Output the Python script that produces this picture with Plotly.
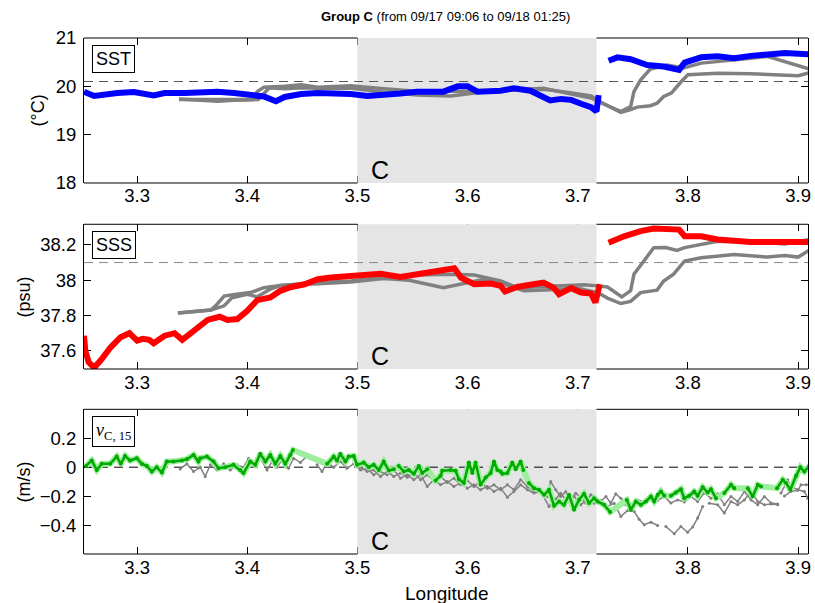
import plotly.graph_objects as go

# ---------------- axes / region constants ----------------
X_MIN, X_MAX = 3.2518, 3.909
C_START, C_END = 3.5, 3.717
X_TICKS = [3.3, 3.4, 3.5, 3.6, 3.7, 3.8, 3.9]

SST_RANGE = [18, 21]
SST_TICKS = [18, 19, 20, 21]
SST_REF = 20.1
SSS_RANGE = [37.497, 38.317]
SSS_TICKS = [37.6, 37.8, 38.0, 38.2]
SSS_REF = 38.1
V_RANGE = [-0.6, 0.4]
V_TICKS = [-0.4, -0.2, 0, 0.2]
V_REF = 0.0

TITLE_BOLD = "Group C"
TITLE_REST = " (from 09/17 09:06 to 09/18 01:25)"

# ---------------- SST ----------------
sst_lon = [3.2518, 3.261, 3.282, 3.297, 3.315, 3.325, 3.343, 3.358, 3.373, 3.388, 3.403, 3.415,
           3.426, 3.434, 3.449, 3.464, 3.494, 3.509, 3.539, 3.554, 3.578, 3.591, 3.600, 3.609,
           3.630, 3.642, 3.657, 3.669, 3.675, 3.685, 3.694, 3.703, 3.712, 3.717, 3.719,
           None,
           3.728, 3.736, 3.748, 3.763, 3.778, 3.792, 3.797, 3.812, 3.827, 3.842, 3.857, 3.872,
           3.888, 3.910]
sst_val = [19.89, 19.80, 19.86, 19.88, 19.81, 19.86, 19.86, 19.87, 19.89, 19.86, 19.81, 19.79,
           19.69, 19.78, 19.84, 19.86, 19.84, 19.80, 19.85, 19.89, 19.89, 20.00, 20.00, 19.89,
           19.91, 19.96, 19.91, 19.79, 19.71, 19.74, 19.72, 19.64, 19.57, 19.48, 19.82,
           None,
           20.53, 20.60, 20.56, 20.44, 20.41, 20.34, 20.49, 20.60, 20.62, 20.58, 20.63, 20.67,
           20.69, 20.66]

sst_gray_a_lon = [3.338, 3.373, 3.388, 3.405, 3.409, 3.415, 3.434, 3.449, 3.464, 3.494, 3.524,
                  3.554, 3.585, 3.615, 3.645, 3.669, 3.690, 3.712, 3.722, 3.739, 3.748, 3.751,
                  3.757, 3.766, 3.781, 3.796, 3.812, 3.827, 3.857, 3.872, 3.888, 3.900, 3.910]
sst_gray_a_val = [19.74, 19.69, 19.71, 19.72, 19.89, 19.98, 20.00, 20.03, 19.98, 20.01, 19.95,
                  19.90, 19.90, 19.89, 19.93, 19.96, 19.86, 19.76, 19.65, 19.48, 19.58, 19.89,
                  20.13, 20.36, 20.44, 20.38, 20.48, 20.51, 20.58, 20.62, 20.51, 20.41, 20.36]
sst_gray_b_lon = [3.338, 3.373, 3.388, 3.410, 3.415, 3.420, 3.434, 3.449, 3.464, 3.494, 3.524,
                  3.554, 3.585, 3.600, 3.615, 3.645, 3.669, 3.690, 3.712, 3.722, 3.739, 3.748,
                  3.754, 3.766, 3.772, 3.778, 3.785, 3.794, 3.800, 3.827, 3.857, 3.900, 3.910]
sst_gray_b_val = [19.73, 19.72, 19.73, 19.73, 19.85, 19.97, 19.95, 19.97, 19.96, 19.96, 19.88,
                  19.82, 19.80, 19.84, 19.89, 19.93, 19.94, 19.88, 19.80, 19.66, 19.46, 19.52,
                  19.57, 19.60, 19.65, 19.79, 19.86, 20.10, 20.24, 20.27, 20.26, 20.22, 20.28]

# ---------------- SSS ----------------
sss_lon = [3.2518, 3.253, 3.256, 3.261, 3.267, 3.276, 3.285, 3.293, 3.300, 3.305, 3.311, 3.315,
           3.325, 3.334, 3.341, 3.352, 3.364, 3.375, 3.382, 3.391, 3.400, 3.409, 3.421, 3.430,
           3.440, 3.452, 3.464, 3.476, 3.494, 3.509, 3.521, 3.539, 3.554, 3.566, 3.578, 3.588,
           3.594, 3.606, 3.621, 3.630, 3.634, 3.645, 3.657, 3.669, 3.678, 3.683, 3.694, 3.703,
           3.712, 3.716, 3.720,
           None,
           3.728, 3.742, 3.757, 3.769, 3.792, 3.797, 3.812, 3.827, 3.857, 3.888, 3.910]
sss_val = [37.686, 37.600, 37.536, 37.505, 37.546, 37.620, 37.677, 37.700, 37.658, 37.668, 37.662,
           37.643, 37.686, 37.700, 37.662, 37.715, 37.775, 37.793, 37.775, 37.780, 37.827, 37.887,
           37.902, 37.940, 37.962, 37.977, 38.006, 38.015, 38.024, 38.030, 38.037, 38.019, 38.034,
           38.052, 38.062, 38.068, 38.015, 37.977, 37.981, 37.968, 37.936, 37.962, 37.974, 37.987,
           37.958, 37.921, 37.955, 37.930, 37.925, 37.874, 37.977,
           None,
           38.212, 38.249, 38.278, 38.293, 38.287, 38.249, 38.249, 38.231, 38.217, 38.212, 38.217]

sss_gray_a_lon = [3.337, 3.367, 3.372, 3.379, 3.390, 3.403, 3.415, 3.430, 3.464, 3.494, 3.524,
                  3.554, 3.585, 3.606, 3.630, 3.645, 3.670, 3.706, 3.718, 3.727, 3.740, 3.748,
                  3.751, 3.760, 3.769, 3.780, 3.790, 3.797, 3.812, 3.827, 3.857, 3.888, 3.910]
sss_gray_a_val = [37.814, 37.831, 37.860, 37.910, 37.920, 37.930, 37.958, 37.970, 37.987, 37.996,
                  38.019, 38.030, 38.034, 38.030, 37.996, 37.958, 37.965, 37.974, 37.968, 37.962,
                  37.906, 37.940, 38.034, 38.109, 38.184, 38.185, 38.169, 38.185, 38.203, 38.221,
                  38.220, 38.206, 38.231]
sss_gray_b_lon = [3.337, 3.367, 3.379, 3.386, 3.400, 3.409, 3.421, 3.430, 3.464, 3.494, 3.524,
                  3.547, 3.578, 3.597, 3.615, 3.630, 3.651, 3.670, 3.700, 3.718, 3.727, 3.739,
                  3.748, 3.757, 3.772, 3.778, 3.787, 3.797, 3.812, 3.842, 3.872, 3.888, 3.900,
                  3.910]
sss_gray_b_val = [37.814, 37.831, 37.855, 37.900, 37.920, 37.906, 37.950, 37.970, 37.980, 37.990,
                  38.010, 38.000, 37.958, 37.985, 38.006, 37.985, 37.940, 37.945, 37.955, 37.930,
                  37.899, 37.868, 37.880, 37.930, 37.944, 37.996, 38.034, 38.109, 38.127, 38.146,
                  38.131, 38.140, 38.131, 38.169]

# ---------------- velocity ----------------
v_lon = [3.2536, 3.2588, 3.2634, 3.2679, 3.2755, 3.2815, 3.2852, 3.2891, 3.2936, 3.2997, 3.3043,
         3.3088, 3.3134, 3.3179, 3.3225, 3.3270, 3.3330, 3.3406, 3.3452, 3.3512, 3.3557, 3.3573,
         3.3634, 3.3694, 3.3739, 3.3800, 3.3875, 3.3936, 3.3966, 3.4027, 3.4073, 3.4118, 3.4164,
         3.4209, 3.4255, 3.4300, 3.4345, 3.4391, 3.4415,
         None,
         3.4725, 3.4785, 3.4815, 3.4845, 3.4891, 3.4921, 3.4966, 3.4997, 3.5057, 3.5103, 3.5148,
         3.5194, 3.5239, 3.5285, 3.5330,
         None,
         3.5375, 3.5421, 3.5466, 3.5512, 3.5557, 3.5588, 3.5634,
         None,
         3.5709, 3.5755, 3.5770, 3.5845, 3.5891, 3.5921, 3.5966, 3.6012, 3.6043, 3.6073, 3.6118,
         3.6164, 3.6209, 3.6239, 3.6270, 3.6300, 3.6315, 3.6361, 3.6406, 3.6436, 3.6482, 3.6506,
         None,
         3.6557, 3.6603, 3.6648, 3.6694, 3.6739, 3.6785, 3.6830, 3.6875, 3.6921, 3.6966, 3.7012,
         3.7057, 3.7103, 3.7148, 3.7179, 3.7239, 3.7294,
         None,
         3.7445, 3.7482, 3.7527, 3.7573, 3.7618, 3.7664, 3.7694, 3.7725, 3.7755, 3.7785,
         None,
         3.7845, 3.7891, 3.7936, 3.7966, 3.8012, 3.8057, 3.8088, 3.8134, 3.8179, 3.8209, 3.8255,
         None,
         3.8330, 3.8391, 3.8421,
         None,
         3.8543, 3.8588, 3.8634, 3.8664,
         None,
         3.8809, 3.8861, 3.8891, 3.8930, 3.8982, 3.9021, 3.9057, 3.9103]
v_val = [0.009, 0.046, -0.019, 0.023, 0.023, 0.073, 0.023, 0.078, 0.046, 0.062, 0.023,
         0.009, -0.030, 0.000, -0.037, 0.039, 0.040, 0.046, 0.055, 0.085, 0.039, 0.062,
         0.073, 0.039, -0.007, 0.000, 0.016, -0.019, -0.041, 0.039, 0.016, 0.092, 0.039,
         0.085, 0.023, 0.078, 0.023, 0.085, 0.119,
         None,
         0.023, 0.073, 0.046, 0.092, 0.039, 0.073, 0.078, 0.016, 0.032, 0.000, 0.016,
         -0.019, 0.039, -0.023, -0.014,
         None,
         0.009, -0.030, -0.019, -0.046, 0.009, -0.041, -0.014,
         None,
         -0.092, -0.060, -0.025, -0.019, -0.025, -0.083, -0.110, 0.032, -0.041, 0.032, -0.122,
         -0.071, -0.041, 0.039, -0.019, -0.030, -0.046, -0.041, 0.032, -0.014, 0.039, -0.019,
         None,
         -0.110, -0.145, -0.156, -0.191, -0.156, -0.267, -0.237, -0.260, -0.191, -0.294, -0.225,
         -0.184, -0.248, -0.214, -0.237, -0.260, -0.310,
         None,
         -0.226, -0.294, -0.237, -0.260, -0.237, -0.203, -0.237, -0.191, -0.168, -0.198,
         None,
         -0.198, -0.175, -0.152, -0.214, -0.198, -0.168, -0.198, -0.138, -0.175, -0.152, -0.214,
         None,
         -0.179, -0.122, -0.145,
         None,
         -0.145, -0.203, -0.122, -0.133,
         None,
         -0.145, -0.087, -0.110, -0.156, -0.060, 0.000, -0.030, 0.009]

v_gray_a_lon = [3.3391, 3.3452, 3.3512, 3.3557, 3.3573, 3.3618, 3.3664, 3.3725, 3.3785, 3.3845,
                3.3906, 3.3966, 3.4012, 3.4057, 3.4118, 3.4179, 3.4225, 3.4270, 3.4315, 3.4375,
                3.4421, 3.4482, 3.4543,
                None,
                3.4634, 3.4679, 3.4725, 3.4785, 3.4845, 3.4906, 3.4966, 3.5027, 3.5088, 3.5148,
                3.5209, 3.5270, 3.5330, 3.5391, 3.5452, 3.5512, 3.5573, 3.5634, 3.5694, 3.5755,
                3.5815, 3.5875, 3.5936, 3.5997, 3.6057, 3.6118, 3.6179, 3.6239, 3.6300, 3.6361,
                3.6421, 3.6482, 3.6543, 3.6603, 3.6664, 3.6739, 3.6800, 3.6845, 3.6906, 3.6966,
                3.7027, 3.7088, 3.7148, 3.7209, 3.7270, 3.7330, 3.7391, 3.7452, 3.7512, 3.7557,
                3.7603, 3.7664, 3.7725,
                None,
                3.7800, 3.7876, 3.7936, 3.7997, 3.8043, 3.8088, 3.8134,
                None,
                3.8194, 3.8270, 3.8330, 3.8391, 3.8452, 3.8512, 3.8573, 3.8634, 3.8694, 3.8755,
                3.8815,
                None,
                3.8876, 3.8936, 3.8997, 3.9027, 3.9073, 3.9118]
v_gray_a_val = [-0.012, 0.023, -0.030, -0.005, 0.000, -0.064, 0.016, -0.019, 0.023, -0.019,
                0.016, 0.000, 0.062, 0.009, 0.062, -0.019, 0.039, 0.000, 0.050, -0.007,
                0.062, 0.032, 0.078,
                None,
                0.016, -0.030, 0.032, 0.000, 0.039, -0.007, 0.023, -0.019, -0.010, -0.053,
                -0.030, -0.053, -0.019, -0.076, -0.053, -0.087, -0.053, -0.133, -0.087, -0.122,
                -0.099, -0.133, -0.110, -0.145, -0.122, -0.156, -0.133, -0.168, -0.145, -0.207,
                -0.168, -0.122, -0.156, -0.179, -0.168, -0.271, -0.220, -0.180, -0.240, -0.200,
                -0.260, -0.220, -0.250, -0.230, -0.270, -0.250, -0.340, -0.300, -0.306, -0.360,
                -0.398, -0.380, -0.403,
                None,
                -0.410, -0.460, -0.410, -0.450, -0.414, -0.352, -0.271,
                None,
                -0.250, -0.260, -0.317, -0.237, -0.260, -0.226, -0.168, -0.237, -0.260, -0.255,
                -0.260,
                None,
                -0.200, -0.168, -0.160, -0.122, -0.122, -0.122]

v_gray_b_lon = [3.5027, 3.5088, 3.5148, 3.5209, 3.5270, 3.5330, 3.5391, 3.5452, 3.5512, 3.5573,
                3.5634, 3.5694, 3.5755, 3.5815, 3.5875, 3.5936, 3.5997, 3.6057, 3.6118, 3.6179,
                3.6239, 3.6300, 3.6361, 3.6421, 3.6482, 3.6543, 3.6603, 3.6664, 3.6725, 3.6755,
                3.6800, 3.6845, 3.6891, 3.6936, 3.6982, 3.7027, 3.7073, 3.7118, 3.7164, 3.7209,
                3.7255, 3.7300, 3.7345, 3.7391, 3.7436, 3.7482, 3.7543, 3.7603, 3.7664, 3.7725,
                3.7785, 3.7845, 3.7906, 3.7966, 3.8027, 3.8088, 3.8148, 3.8209, 3.8270, 3.8330,
                3.8391, 3.8452, 3.8512, 3.8573, 3.8634, 3.8694, 3.8755, 3.8815,
                None,
                3.8845, 3.8906, 3.8936, 3.8997, 3.9057, 3.9088]
v_gray_b_val = [0.000, -0.030, -0.019, -0.064, -0.030, -0.064, -0.041, -0.069, -0.037, -0.087,
                -0.053, -0.092, -0.064, -0.106, -0.076, -0.122, -0.092, -0.133, -0.099, -0.145,
                -0.122, -0.156, -0.122, -0.156, -0.087, -0.133, -0.168, -0.156, -0.203, -0.099,
                -0.156, -0.203, -0.170, -0.226, -0.180, -0.210, -0.248, -0.191, -0.214, -0.237,
                -0.203, -0.248, -0.184, -0.214, -0.260, -0.283, -0.226, -0.240, -0.203, -0.230,
                -0.203, -0.248, -0.226, -0.240, -0.203, -0.237, -0.179, -0.214, -0.184, -0.260,
                -0.203, -0.237, -0.168, -0.226, -0.260, -0.203, -0.248, -0.255,
                None,
                -0.179, -0.087, -0.133, -0.156, -0.168, -0.214]

# ---------------- figure ----------------
FONT = "Liberation Sans, Arial, sans-serif"
GRAY = "#808080"
SHADE = "#E5E5E5"

fig = go.Figure()

panels = [
    dict(x="x", y="y", rng=SST_RANGE, ref=SST_REF, refcolor="#555555"),
    dict(x="x2", y="y2", rng=SSS_RANGE, ref=SSS_REF, refcolor="#888888"),
    dict(x="x3", y="y3", rng=V_RANGE, ref=V_REF, refcolor="#000000"),
]

for p in panels:
    lo, hi = p["rng"]
    pad = (hi - lo)
    fig.add_trace(go.Scatter(
        x=[C_START, C_END, C_END, C_START, C_START],
        y=[lo - pad, lo - pad, hi + pad, hi + pad, lo - pad],
        fill="toself", fillcolor=SHADE, mode="lines", line=dict(width=0),
        hoverinfo="skip", xaxis=p["x"], yaxis=p["y"]))
    fig.add_trace(go.Scatter(
        x=[X_MIN, X_MAX], y=[p["ref"], p["ref"]], mode="lines",
        line=dict(color=p["refcolor"], width=1, dash="9px,6px"),
        hoverinfo="skip", xaxis=p["x"], yaxis=p["y"]))

# SST
for lx, ly in [(sst_gray_a_lon, sst_gray_a_val), (sst_gray_b_lon, sst_gray_b_val)]:
    fig.add_trace(go.Scatter(x=lx, y=ly, mode="lines", line=dict(color=GRAY, width=3.5),
                             xaxis="x", yaxis="y"))
fig.add_trace(go.Scatter(x=sst_lon, y=sst_val, mode="lines",
                         line=dict(color="#0000FF", width=6), xaxis="x", yaxis="y"))

# SSS
for lx, ly in [(sss_gray_a_lon, sss_gray_a_val), (sss_gray_b_lon, sss_gray_b_val)]:
    fig.add_trace(go.Scatter(x=lx, y=ly, mode="lines", line=dict(color=GRAY, width=3.5),
                             xaxis="x2", yaxis="y2"))
fig.add_trace(go.Scatter(x=sss_lon, y=sss_val, mode="lines",
                         line=dict(color="#FF0000", width=6), xaxis="x2", yaxis="y2"))

# velocity
for lx, ly in [(v_gray_a_lon, v_gray_a_val), (v_gray_b_lon, v_gray_b_val)]:
    fig.add_trace(go.Scatter(x=lx, y=ly, mode="lines+markers",
                             line=dict(color=GRAY, width=1.5),
                             marker=dict(color=GRAY, size=3),
                             xaxis="x3", yaxis="y3"))
fig.add_trace(go.Scatter(x=v_lon, y=v_val, mode="lines", connectgaps=True,
                         line=dict(color="#9DEE9D", width=6), xaxis="x3", yaxis="y3"))
fig.add_trace(go.Scatter(x=v_lon, y=v_val, mode="lines+markers",
                         line=dict(color="#00AA00", width=2.5),
                         marker=dict(color="#00AA00", size=4),
                         xaxis="x3", yaxis="y3"))

domains = {"y": [0.719, 1.0], "y2": [0.3585, 0.639], "y3": [0.0, 0.2804]}
yranges = {"y": (SST_RANGE, SST_TICKS), "y2": (SSS_RANGE, SSS_TICKS), "y3": (V_RANGE, V_TICKS)}

tickfont = dict(family=FONT, size=18.5, color="black")
layout_axes = {}
for xid, yid in [("x", "y"), ("x2", "y2"), ("x3", "y3")]:
    xname = "xaxis" + xid[1:]
    yname = "yaxis" + yid[1:]
    layout_axes[xname] = dict(
        domain=[0, 1], range=[X_MIN, X_MAX], anchor=yid, tickvals=X_TICKS,
        ticks="inside", ticklen=7, tickcolor="black", mirror="ticks", showline=False,
        showgrid=False, zeroline=False, tickfont=tickfont, layer="below traces",
        automargin=False)
    rng, tv = yranges[yid]
    layout_axes[yname] = dict(
        domain=domains[yid], range=rng, anchor=xid, tickvals=tv,
        ticks="inside", ticklen=7, tickcolor="black", mirror="ticks", showline=True,
        linecolor="black", linewidth=1, showgrid=False, zeroline=False, tickfont=tickfont,
        layer="below traces", ticklabelstandoff=3, automargin=False)

shapes = []
for xid, yid in [("x", "y"), ("x2", "y2"), ("x3", "y3")]:
    for a, b in [(X_MIN, C_START), (C_END, X_MAX)]:
        for yy in [0, 1]:
            shapes.append(dict(type="line", xref=xid, yref=yid + " domain",
                               x0=a, x1=b, y0=yy, y1=yy,
                               line=dict(color="black", width=1), layer="above"))

annotations = []
# label boxes
for txt, xid, yid, fam in [("SST", "x", "y", FONT), ("SSS", "x2", "y2", FONT),
                           ("<i>v</i><sub>C, 15</sub>", "x3", "y3",
                            "Liberation Serif, Times New Roman, serif")]:
    annotations.append(dict(
        text=txt, xref=xid + " domain", yref=yid + " domain", x=0.011, y=0.955,
        xanchor="left", yanchor="top",
        showarrow=False, font=dict(family=fam, size=18, color="black"),
        bordercolor="black", borderwidth=1, borderpad=3, bgcolor="white"))
# "C" region labels
for xid, yid in [("x", "y"), ("x2", "y2"), ("x3", "y3")]:
    annotations.append(dict(
        text="C", xref=xid + " domain", yref=yid + " domain", x=0.393, y=0.0,
        xanchor="left", yanchor="bottom", yshift=-3, showarrow=False,
        font=dict(family=FONT, size=25, color="black")))
# y titles
for txt, yid, xp in [("(°C)", "y", -0.0635), ("(psu)", "y2", -0.083), ("(m/s)", "y3", -0.083)]:
    annotations.append(dict(
        text=txt, xref="paper", yref=yid + " domain", x=xp, y=0.5, xanchor="center",
        yanchor="middle", textangle=-90, showarrow=False,
        font=dict(family=FONT, size=18, color="black")))
# x title
annotations.append(dict(text="Longitude", xref="paper", yref="paper", x=0.501, y=-0.0756,
                        xanchor="center", yanchor="middle", showarrow=False,
                        font=dict(family=FONT, size=19, color="black")))
# title
annotations.append(dict(text="<b>" + TITLE_BOLD + "</b>" + TITLE_REST, xref="paper", yref="paper",
                        x=0.499, y=1.0407, xanchor="center", yanchor="middle", showarrow=False,
                        font=dict(family=FONT, size=13, color="black")))

fig.update_layout(
    width=815, height=603, showlegend=False,
    margin=dict(l=84, r=7, t=38, b=49),
    paper_bgcolor="white", plot_bgcolor="white",
    font=dict(family=FONT, color="black"),
    shapes=shapes, annotations=annotations, **layout_axes)

fig.write_html("out.html", config={"displayModeBar": False},
               post_script="document.body.style.margin='0px';document.body.style.padding='0px';")
